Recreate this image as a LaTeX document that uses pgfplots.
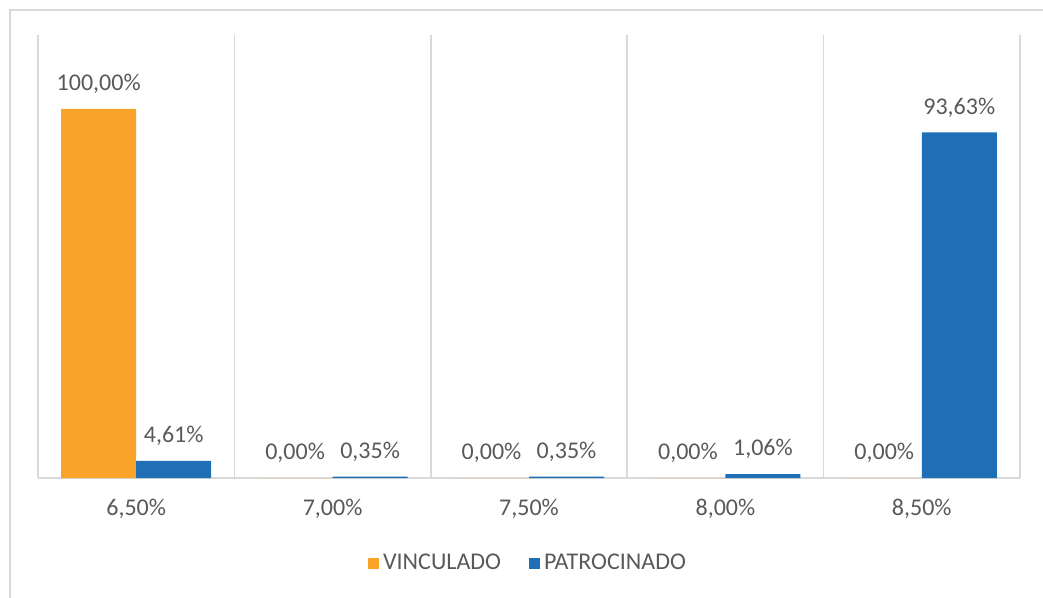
\documentclass[border=0pt]{standalone}
\usepackage{fontspec}
\setmainfont{Carlito}
\usepackage{pgfplots}
\pgfplotsset{compat=1.18}

\definecolor{vinc}{HTML}{F9A428}
\definecolor{patr}{HTML}{1F6FB6}
\definecolor{txt}{HTML}{595959}
\definecolor{gridc}{HTML}{D9D9D9}

\begin{document}
\begin{tikzpicture}
% page: 1043 x 598 px at 0.5pt per px
\useasboundingbox (0,0) rectangle (521.5pt,-299pt);
\draw[gridc, line width=0.6pt] (5pt,-305pt) -- (5pt,-5pt) -- (530pt,-5pt);
\begin{axis}[
    at={(19pt,-239pt)}, anchor=south west,
    scale only axis,
    width=491pt, height=221.5pt,
    ybar, bar width=37.5pt,
    xmin=-0.5, xmax=4.5,
    ymin=0, ymax=120,
    axis y line=none,
    axis x line=bottom,
    x axis line style={gridc, line width=0.8pt, -},
    xtick={0,...,4},
    xticklabels={{6,50\%},{7,00\%},{7,50\%},{8,00\%},{8,50\%}},
    minor xtick={-0.5,0.5,...,4.5},
    minor x grid style={gridc, line width=0.8pt},
    xminorgrids,
    major tick length=0pt, minor tick length=0pt,
    tick label style={font=\fontsize{12}{14}\selectfont, text=txt},
    xticklabel style={yshift=-7pt},
    /pgf/number format/assume math mode=true,
    nodes near coords={\pgfmathprintnumber[fixed,fixed zerofill,precision=2,use comma]{\pgfplotspointmeta}\%},
    nodes near coords style={font=\fontsize{12}{14}\selectfont, text=txt, yshift=4pt},
    legend style={at={(0.5,-0.192)}, anchor=center, draw=none, fill=none,
        legend columns=2, font=\fontsize{12}{14}\selectfont, text=txt,
        /tikz/every even column/.append style={column sep=12pt}},
    legend image code/.code={\fill[#1] (0pt,-2.75pt) rectangle (5.5pt,2.75pt);},
    clip=false,
]
\addplot[fill=vinc, draw=none, bar shift=-18.75pt] coordinates {
    (0,100.00) (1,0.00) (2,0.00) (3,0.00) (4,0.00)
};
\addlegendentry{VINCULADO}
\addplot[fill=patr, draw=none, bar shift=18.75pt] coordinates {
    (0,4.61) (1,0.35) (2,0.35) (3,1.06) (4,93.63)
};
\addlegendentry{PATROCINADO}
\end{axis}
\end{tikzpicture}
\end{document}
